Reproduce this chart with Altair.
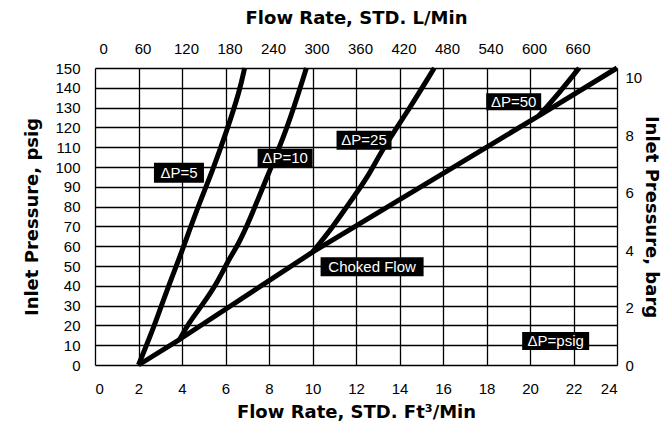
import json
import altair as alt
import pandas as pd

# ---------------- data ----------------
# flow in STD ft^3/min, inlet pressure in psig
dp5_flow = [2.0, 2.39, 2.75, 3.44, 3.90, 4.68, 5.37, 6.06, 6.65, 6.88]
dp5_psig = [0, 10.6, 20.6, 41.8, 54.4, 78.5, 97.1, 118.3, 138.4, 150]

dp10_flow = [3.9, 4.27, 4.96, 5.64, 6.20, 6.52, 7.11, 7.89, 8.81, 9.72]
dp10_psig = [13, 20.6, 30.7, 41.8, 54.4, 59.4, 73.0, 94.6, 118.3, 150]

dp25_flow = [10.0, 10.92, 11.7, 12.53, 13.16, 14.4, 15.6]
dp25_psig = [57, 69.5, 82, 94.6, 108, 128.5, 150]

dp50_flow = [20.42, 21.34, 22.26]
dp50_psig = [126, 137.4, 150]

choked_flow = [2.0, 3.9, 10.0, 20.42, 24.0]
choked_psig = [0, 13, 57, 126, 150]

series_names = ["ΔP=5", "ΔP=10", "ΔP=25", "ΔP=50", "Choked Flow"]

# annotation labels (centre positions in data units)
label_text = ["ΔP=5", "ΔP=10", "ΔP=25", "ΔP=50", "Choked Flow", "ΔP=psig"]
label_flow = [3.86, 8.74, 12.37, 19.25, 12.74, 21.18]
label_psig = [97.1, 104.4, 113.5, 132.9, 49.6, 12.1]
label_box_w = [50, 55, 55, 55, 103, 67]   # px
label_box_h = [20, 19, 19, 17, 19, 18]    # px

# axes
bottom_ticks = list(range(0, 25, 2))
top_ticks = list(range(0, 23, 2))
top_tick_labels = ["0", "60", "120", "180", "240", "300", "360", "420",
                   "480", "540", "600", "660"]
left_ticks = list(range(0, 151, 10))
right_ticks_barg = [0, 2, 4, 6, 8, 10]
PSI_PER_BAR = 14.5038

# ---------------- build tables ----------------
W, H = 522, 297
X_DOM, Y_DOM = [0, 24], [0, 150]

curves = [dp5_flow, dp10_flow, dp25_flow, dp50_flow]
curves_p = [dp5_psig, dp10_psig, dp25_psig, dp50_psig]
rows = []
for name, fx, py in zip(series_names[:4], curves, curves_p):
    for i, (a, b) in enumerate(zip(fx, py)):
        rows.append({"series": name, "flow": a, "psig": b, "order": i})
curves_df = pd.DataFrame(rows)
choked_df = pd.DataFrame({"series": series_names[4], "flow": choked_flow,
                          "psig": choked_psig, "order": range(len(choked_flow))})

ux = (X_DOM[1] - X_DOM[0]) / W
uy = (Y_DOM[1] - Y_DOM[0]) / H
lab_df = pd.DataFrame({"text": label_text, "flow": label_flow, "psig": label_psig,
                       "w": label_box_w, "h": label_box_h})
lab_df["x1"] = lab_df["flow"] - lab_df["w"] / 2 * ux
lab_df["x2"] = lab_df["flow"] + lab_df["w"] / 2 * ux
lab_df["y1"] = lab_df["psig"] - lab_df["h"] / 2 * uy
lab_df["y2"] = lab_df["psig"] + lab_df["h"] / 2 * uy

xs = alt.Scale(domain=X_DOM, nice=False, zero=False)
ys = alt.Scale(domain=Y_DOM, nice=False, zero=False)

TITLE_FONT = "DejaVu Sans"
LABEL_FONT = "Liberation Sans"

common_axis = dict(domain=False, ticks=False, labelFont=LABEL_FONT, labelFontSize=15,
                   labelColor="black", titleFont=TITLE_FONT, titleFontSize=18,
                   titleFontWeight="bold", titleColor="black")

curve_lines = alt.Chart(curves_df).mark_line(
    color="black", strokeWidth=5, strokeCap="butt", strokeJoin="round",
    interpolate="basis"
).encode(
    x=alt.X("flow:Q", scale=xs, axis=alt.Axis(
        orient="bottom", values=bottom_ticks, grid=True, gridColor="black",
        gridWidth=1.3, gridOpacity=1, labelPadding=16,
        title="Flow Rate, STD. Ft³/Min", titlePadding=7, **common_axis)),
    y=alt.Y("psig:Q", scale=ys, axis=alt.Axis(
        orient="left", values=left_ticks, grid=True, gridColor="black",
        gridWidth=1.3, gridOpacity=1, labelPadding=15,
        title="Inlet Pressure, psig", titlePadding=13, **common_axis)),
    detail="series:N",
    order="order:Q",
)

choked_line = alt.Chart(choked_df).mark_line(
    color="black", strokeWidth=5, strokeCap="butt", strokeJoin="round"
).encode(
    x=alt.X("flow:Q", scale=xs, axis=None),
    y=alt.Y("psig:Q", scale=ys, axis=None),
    order="order:Q",
)

top_expr = json.dumps(top_tick_labels) + "[round(datum.value / 2)]"
right_vals = [b * PSI_PER_BAR for b in right_ticks_barg]

boxes = alt.Chart(lab_df).mark_rect(color="black").encode(
    x=alt.X("x1:Q", scale=xs, axis=alt.Axis(
        orient="top", values=top_ticks, grid=False, labelExpr=top_expr,
        labelPadding=12, labelOffset=4,
        title="Flow Rate, STD. L/Min", titlePadding=14, **common_axis)),
    x2="x2:Q",
    y=alt.Y("y1:Q", scale=ys, axis=alt.Axis(
        orient="right", values=right_vals, grid=False,
        labelExpr=f"format(datum.value / {PSI_PER_BAR}, '.0f')",
        labelPadding=8, title="Inlet Pressure, barg", titlePadding=0,
        **common_axis)),
    y2="y2:Q",
)

texts = alt.Chart(lab_df).mark_text(
    color="white", font=LABEL_FONT, fontSize=15, align="center", baseline="middle"
).encode(
    x=alt.X("flow:Q", scale=xs, axis=None),
    y=alt.Y("psig:Q", scale=ys, axis=None),
    text="text:N",
)

chart = alt.layer(curve_lines, choked_line, boxes, texts).resolve_axis(
    x="independent", y="independent"
).properties(
    width=W, height=H,
    autosize=alt.AutoSizeParams(type="none"),
    padding={"left": 87, "top": 60, "right": 47, "bottom": 61},
).configure_view(
    stroke="black", strokeWidth=5
).configure(background="white")

chart.save("out.html", embed_options={"renderer": "svg", "actions": False})
